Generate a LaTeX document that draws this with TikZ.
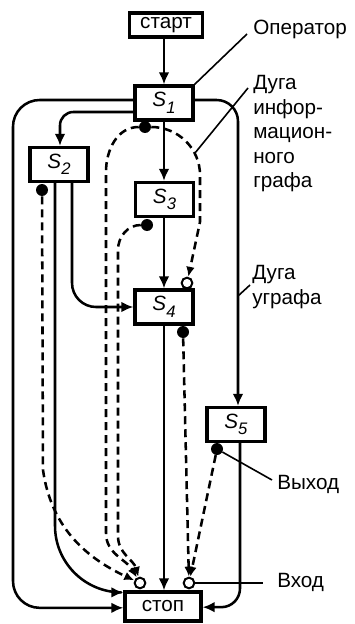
\documentclass[tikz,border=0pt]{standalone}
\usepackage{fontspec}
\setmainfont{Liberation Sans}
\usetikzlibrary{arrows.meta}

\tikzset{
  opbox/.style={draw=black, line width=2.4pt, minimum width=43.5pt, minimum height=25.5pt, inner sep=0pt, fill=white},
  termbox/.style={draw=black, line width=2.4pt, inner sep=0pt, fill=white},
  ctrl/.style={draw=black, line width=1.9pt, -{Latex[length=9pt,width=8pt]}},
  info/.style={draw=black, line width=1.9pt, dash pattern=on 6pt off 3.75pt, -{Latex[length=7.5pt,width=6.5pt]}},
  leader/.style={draw=black, line width=1.2pt},
  outport/.style={circle, fill=black, inner sep=0pt, minimum size=9pt},
  inport/.style={circle, draw=black, fill=white, line width=1.5pt, inner sep=0pt, minimum size=8pt},
  lbl/.style={black, inner sep=0pt},
}
\newcommand{\opname}[1]{\textit{S}\raisebox{-0.6ex}{\fontsize{12.5}{12.5}\selectfont\textit{#1}}}

\begin{document}
\begin{tikzpicture}[x=0.75pt, y=-0.75pt, font=\fontsize{15.5}{18.4}\selectfont]
    \useasboundingbox (0,0) rectangle (354,624);
    % operators
    \node[termbox, minimum width=54.75pt, minimum height=18pt] (start) at (166,25) {старт};
    \node[opbox] (s1) at (164,103) {\opname{1}};
    \node[opbox] (s2) at (59,164.5) {\opname{2}};
    \node[opbox] (s3) at (164.5,199.5) {\opname{3}};
    \node[opbox] (s4) at (164,307) {\opname{4}};
    \node[opbox] (s5) at (236,424.5) {\opname{5}};
    \node[termbox, minimum width=57pt, minimum height=21.75pt] (stop) at (163,606.5) {стоп};
    % control arcs
    \draw[ctrl] (start.south -| s1.north) -- (s1.north);
    \draw[ctrl] (s1.south) -- (s1.south |- s3.north);
    \draw[ctrl] (s3.south -| s4.north) -- (s4.north);
    \draw[ctrl] (s4.south) -- (s4.south |- stop.north);
    \draw[ctrl, rounded corners=10pt] ([yshift=-6.75pt]s1.west) -| ([xshift=0.75pt]s2.north);
    \draw[ctrl, rounded corners=18pt] ([xshift=9.75pt]s2.south) |- (s4.west);
    \draw[ctrl, rounded corners=50pt] ([xshift=-3pt]s2.south) |- ([yshift=-1.5pt]stop.north west);
    \draw[ctrl, rounded corners=20pt] ([yshift=2.25pt]s1.west) -| (13,400) |- ([yshift=-1pt]stop.west);
    \draw[ctrl, rounded corners=16pt] ([yshift=2.25pt]s1.east) -| ([xshift=1.5pt]s5.north);
    \draw[ctrl, rounded corners=14pt] ([xshift=3pt]s5.south) |- ([yshift=-0.5pt]stop.east);
    % ports
    \node[outport] (s1out) at (145,127) {};
    \node[outport] (s2out) at (42,190) {};
    \node[outport] (s3out) at (147,225) {};
    \node[outport] (s4out) at (183,332) {};
    \node[outport] (s5out) at (217,449) {};
    \node[inport] (s4in) at (187,283) {};
    \node[inport] (stopinA) at (140,583) {};
    \node[inport] (stopinB) at (189,583) {};
    % information arcs
    \draw[info] (s1out) to[out=0,in=90] (200,175) -- (200,222) -- (s4in);
    \draw[info] (s1out) to[out=180,in=90] (106,172) -- (106,533) to[out=-90,in=120] (stopinA);
    \draw[info] (s3out) to[out=180,in=90] (118,250) -- (118,536) to[out=-90,in=105] (stopinA);
    \draw[info] (s2out) -- (43,470) to[out=-82,in=155] (stopinA);
    \draw[info] (s4out) -- (stopinB);
    \draw[info] (s5out) -- (stopinB);
    % labels
    \node[lbl, anchor=base west] (oplbl) at (253,35) {Оператор};
    \draw[leader] ([xshift=-4.5pt,yshift=0.75pt]oplbl.base west) -- (s1.north east);
    \node[lbl, align=left, anchor=north west] (infolbl) at (253,75) {Дуга\\инфор-\\мацион-\\ного\\графа};
    \coordinate (infoarc) at (195,153);
    \draw[leader] ([xshift=-3.75pt,yshift=-9.75pt]infolbl.north west) -- (infoarc);
    \node[lbl, align=left, anchor=north west] (ugrlbl) at (252,265) {Дуга\\уграфа};
    \coordinate (ugrarc) at (238,296);
    \draw[leader] ([xshift=-1.5pt,yshift=-15pt]ugrlbl.north west) -- (ugrarc);
    \node[lbl, anchor=base west] (outlbl) at (277,489) {Выход};
    \draw[leader] (s5out) -- ([xshift=-3.75pt,yshift=6.75pt]outlbl.base west);
    \node[lbl, anchor=base west] (inlbl) at (277,587) {Вход};
    \draw[leader] (stopinB) -- ([xshift=-10.5pt,yshift=3pt]inlbl.base west);
\end{tikzpicture}
\end{document}
